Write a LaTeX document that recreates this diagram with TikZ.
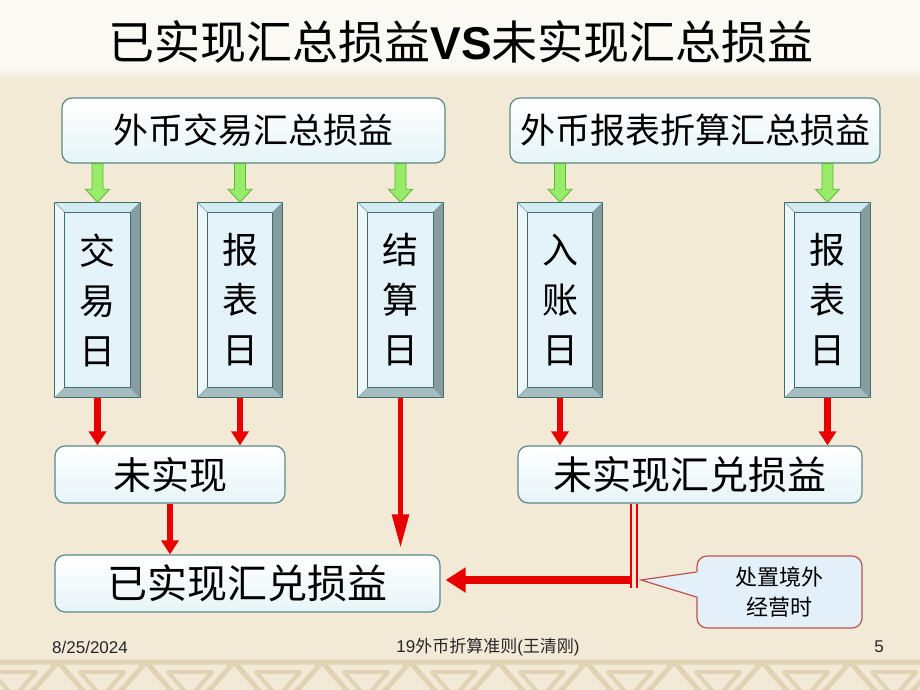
\documentclass[tikz,border=0pt]{standalone}
\usepackage{fontspec}
\setmainfont{Noto Sans CJK SC}
\newfontfamily\lat{Liberation Sans}
\usetikzlibrary{arrows.meta,calc}
\definecolor{bg}{HTML}{F2EAD7}
\definecolor{topband}{HTML}{FBF9F4}
\definecolor{deco}{HTML}{E0D3B3}
\definecolor{boxline}{HTML}{5A8A8A}
\definecolor{boxfill}{HTML}{E6F4F7}
\definecolor{bevline}{HTML}{3E6E6E}
\definecolor{bevface}{HTML}{E4F3FA}
\definecolor{bevtop}{HTML}{D2EAF2}
\definecolor{bevleft}{HTML}{EEF8FB}
\definecolor{bevright}{HTML}{869C9E}
\definecolor{bevbot}{HTML}{A7BCC0}
\definecolor{arrred}{HTML}{E60000}
\definecolor{grnfill}{HTML}{99EB6A}
\definecolor{grnline}{HTML}{5CB536}
\definecolor{calfill}{HTML}{E3F0FA}
\definecolor{calline}{HTML}{C0504D}
\tikzset{
  rbox/.style={draw=boxline, line width=1.2pt, rounded corners=10pt, top color=white, bottom color=boxfill, inner sep=0pt, minimum height=#1},
  rbox/.default=65pt,
  bevbox/.style={fill=bevface, inner sep=0pt, minimum width=85pt, minimum height=195pt, align=center, font=\fontsize{36}{50}\selectfont},
  garr/.style={fill=grnfill, draw=grnline, line width=0.8pt, line join=miter},
  redarr/.style={draw=arrred, line width=6.5pt, -{Triangle[length=14pt,width=17pt]}},
  longarr/.style={draw=arrred, line width=5.5pt, -{Triangle[length=34pt,width=16pt]}},
  bigarr/.style={draw=arrred, line width=8pt, -{Triangle[length=20pt,width=24pt]}},
  callbox/.style={fill=calfill, draw=calline, line width=1.2pt, rounded corners=10pt, minimum width=165pt, minimum height=72pt, inner sep=0pt, align=center, font=\fontsize{22}{30}\selectfont},
  foot/.style={font=\fontsize{17}{17}\selectfont, text=black!85, inner sep=0pt}
}
\newcommand\garrow[2]{%
  \draw[garr] let \p1=(#2.north), \p2=(#1.south) in
   (\x1-5.5pt,\y2) -- (\x1+5.5pt,\y2) -- (\x1+5.5pt,\y1+13pt) -- (\x1+12pt,\y1+13pt) --
   (\x1,\y1) -- (\x1-12pt,\y1+13pt) -- (\x1-5.5pt,\y1+13pt) -- cycle;}
\begin{document}
\begin{tikzpicture}[x=1pt,y=-1pt]
\useasboundingbox (0,0) rectangle (920,690);
% background
\fill[bg] (0,0) rectangle (920,690);
\fill[topband] (0,0) rectangle (920,68);
\shade[top color=topband, bottom color=bg] (0,67) rectangle (920,80);
\begin{scope}
  \clip (0,655) rectangle (920,690);
  \foreach \i in {0,...,11} {
    \draw[deco, line width=5pt, line join=round] (\i*88-30,662) -- (\i*88+58,662) -- (\i*88+14,712) -- cycle;
    \draw[deco, line width=4pt, line join=round] (\i*88-8,672) -- (\i*88+36,672) -- (\i*88+14,697) -- cycle;
  }
\end{scope}

% title
\node[inner sep=0pt, font=\fontsize{46}{46}\selectfont] (title) at (461,42) {已实现汇总损益{\lat\bfseries VS}未实现汇总损益};

% top boxes
\node[rbox, minimum width=383pt, font=\fontsize{35}{35}\selectfont] (tl) at (253.5,130.5) {外币交易汇总损益};
\node[rbox, minimum width=370pt, font=\fontsize{35}{35}\selectfont] (tr) at (695,130.5) {外币报表折算汇总损益};

% bevel boxes
\node[bevbox] (b1) at (97.5,300) {交\\易\\日};
\node[bevbox] (b2) at (240,300) {报\\表\\日};
\node[bevbox] (b3) at (400.5,300) {结\\算\\日};
\node[bevbox] (b4) at (560,300) {入\\账\\日};
\node[bevbox] (b5) at (827.5,300) {报\\表\\日};
\foreach \n in {b1,b2,b3,b4,b5} {
  \fill[bevtop] (\n.north west) -- (\n.north east) -- ($(\n.north east)+(-10,10)$) -- ($(\n.north west)+(10,10)$) -- cycle;
  \fill[bevleft] (\n.north west) -- ($(\n.north west)+(10,10)$) -- ($(\n.south west)+(10,-10)$) -- (\n.south west) -- cycle;
  \fill[bevright] (\n.north east) -- ($(\n.north east)+(-10,10)$) -- ($(\n.south east)+(-10,-10)$) -- (\n.south east) -- cycle;
  \fill[bevbot] (\n.south west) -- ($(\n.south west)+(10,-10)$) -- ($(\n.south east)+(-10,-10)$) -- (\n.south east) -- cycle;
  \draw[bevline, line width=1pt] (\n.north west) rectangle (\n.south east);
  \draw[bevline, line width=0.8pt] ($(\n.north west)+(10,10)$) rectangle ($(\n.south east)+(-10,-10)$);
  \draw[bevline!70, line width=0.6pt] (\n.north west) -- ($(\n.north west)+(10,10)$)
     (\n.north east) -- ($(\n.north east)+(-10,10)$)
     (\n.south west) -- ($(\n.south west)+(10,-10)$)
     (\n.south east) -- ($(\n.south east)+(-10,-10)$);
}

% green arrows
\garrow{tl}{b1}
\garrow{tl}{b2}
\garrow{tl}{b3}
\garrow{tr}{b4}
\garrow{tr}{b5}

% lower boxes
\node[rbox=57pt, minimum width=230pt, font=\fontsize{38}{38}\selectfont] (u1) at (170,474.5) {未实现};
\node[rbox=57pt, minimum width=344pt, font=\fontsize{39}{39}\selectfont] (u2) at (690,474.5) {未实现汇兑损益};
\node[rbox=57pt, minimum width=385pt, font=\fontsize{40}{40}\selectfont] (r) at (247.5,583.5) {已实现汇兑损益};

% red arrows
\draw[redarr] (b1.south) -- (b1.south |- u1.north);
\draw[redarr] (b2.south) -- (b2.south |- u1.north);
\draw[redarr] (b4.south) -- (b4.south |- u2.north);
\draw[redarr] (b5.south) -- (b5.south |- u2.north);
\draw[redarr] (u1.south) -- (u1.south |- r.north);
\draw[longarr, shorten >=6pt] (b3.south) -- (b3.south |- r.north);

% double connector and big arrow
\coordinate (j) at (632,580);
\coordinate (jb) at (634,588);
\draw[bigarr, shorten >=5pt] (j) -- (r.east |- j);
\draw[arrred, line width=1.8pt] ($(u2.south -| jb)+(-3,0)$) -- ($(jb)+(-3,0)$)
                                ($(u2.south -| jb)+(3,0)$) -- ($(jb)+(3,0)$);

% callout
\node[callbox] (c) at (779.5,592) {处置境外\\经营时};
\coordinate (ptr) at (641,580);
\fill[calfill] ($(c.west)+(2.5,-20)$) -- (ptr) -- ($(c.west)+(2.5,5)$) -- cycle;
\draw[calline, line width=1.2pt, line join=miter] ($(c.west)+(0,-20)$) -- (ptr) -- ($(c.west)+(0,5)$);

% footer
\node[foot, anchor=west] (date) at (52,647) {\lat 8/25/2024};
\node[foot] (ftitle) at (488,647) {{\lat 19}外币折算准则{\lat (}王清刚{\lat )}};
\node[foot] (page) at (879,647) {\lat 5};
\end{tikzpicture}
\end{document}
